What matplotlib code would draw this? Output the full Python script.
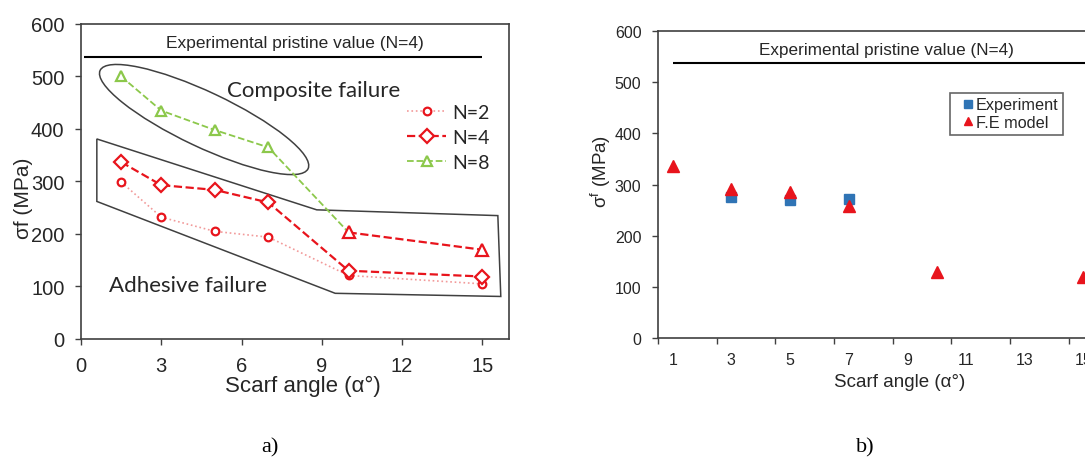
import matplotlib
matplotlib.use('Agg')
import matplotlib.pyplot as plt
from matplotlib.patches import Ellipse, Polygon
from matplotlib.transforms import IdentityTransform
from matplotlib.ticker import FixedLocator, NullFormatter

# ---- data (a) ----
angles_a = [1.5, 3, 5, 7, 10, 15]
sigma_n2 = [299, 232, 205, 194, 121, 105]
sigma_n4 = [337, 293, 284, 260, 130, 119]
sigma_n8 = [500, 435, 398, 365, 203, 170]
x_ticks_a = [0, 3, 6, 9, 12, 15]
y_ticks = [0, 100, 200, 300, 400, 500, 600]

# ---- data (b) ----
angles_exp = [3, 5, 7]
sigma_exp = [275, 270, 272]
err_exp = [8, 6, 9]
angles_fe = [1, 3, 5, 7, 10, 15]
sigma_fe = [337, 291, 285, 258, 130, 120]
x_labels_b = [1, 3, 5, 7, 9, 11, 13, 15]

PRISTINE = 538
PRISTINE_TXT = 'Experimental pristine value (N=4)'

plt.rcParams['font.family'] = ['Liberation Sans', 'DejaVu Sans']
plt.rcParams['mathtext.fontset'] = 'custom'
plt.rcParams['mathtext.rm'] = 'Liberation Sans'

RED = '#e8141c'
GREEN = '#8cc84b'
PINK = '#f29a9a'
GREY = '#404040'
TXT = '#262626'

fig = plt.figure(figsize=(10.85, 4.6), dpi=100)


def style_axes(ax, fs):
    for s in ax.spines.values():
        s.set_color(GREY)
        s.set_linewidth(1.2)
    ax.tick_params(which='major', direction='out', length=4, width=1,
                   color=GREY, labelsize=fs, labelcolor=TXT, pad=8,
                   top=False, right=False)


# ===================== a) =====================
ax1 = fig.add_axes([0.0747, 0.2609, 0.3945, 0.6848])
style_axes(ax1, 14.5)
ax1.set_xlim(0, 16)
ax1.set_ylim(0, 600)
ax1.set_xticks(x_ticks_a)
ax1.set_yticks(y_ticks)
ax1.set_ylabel('σf (MPa)', fontsize=15, color=TXT)
ax1.yaxis.set_label_coords(-0.112, 0.45)
ax1.set_xlabel('Scarf angle (α°)', fontsize=16, color=TXT)
ax1.xaxis.set_label_coords(0.519, -0.115)

ax1.hlines(PRISTINE, 0.1, 15.0, color='black', lw=1.5)
ax1.text(8.0, 565, PRISTINE_TXT, ha='center', va='center', fontsize=12.5,
         color=TXT)

ax1.plot(angles_a, sigma_n2, ':', color=PINK, lw=1.2, marker='o', ms=5.5,
         mfc='white', mec=RED, mew=1.6, label='N=2', zorder=3)
ax1.plot(angles_a, sigma_n4, '--', color=RED, lw=1.6, marker='D', ms=7,
         mfc='white', mec=RED, mew=1.6, label='N=4', zorder=3)
# N=8: green up to 10 deg, red dashed afterwards
ax1.plot(angles_a[:5], sigma_n8[:5], '--', color=GREEN, lw=1.3, zorder=3)
ax1.plot(angles_a[4:], sigma_n8[4:], '--', color=RED, lw=1.6, zorder=3)
ax1.plot(angles_a[:4], sigma_n8[:4], ' ', marker='^', ms=7, mfc='white',
         mec=GREEN, mew=1.6, zorder=4)
ax1.plot(angles_a[4:], sigma_n8[4:], ' ', marker='^', ms=8, mfc='white',
         mec=RED, mew=1.6, zorder=4)

# legend entry for N=8 (green)
ax1.plot([], [], '--', color=GREEN, lw=1.3, marker='^', ms=7, mfc='white',
         mec=GREEN, mew=1.6, label='N=8')
leg1 = ax1.legend(loc='upper left', bbox_to_anchor=(0.762, 0.745),
                  frameon=False, handlelength=2.0,
                  handletextpad=0.3, labelspacing=0.4, borderpad=0,
                  borderaxespad=0, prop={'family': 'Lato', 'size': 14})
for t in leg1.get_texts():
    t.set_color(TXT)

ax1.text(8.7, 475, 'Composite failure', ha='center', va='center',
         fontsize=16, family='Lato', color=TXT)
ax1.text(4.0, 103, 'Adhesive failure', ha='center', va='center',
         fontsize=16, family='Lato', color=TXT)

# failure zones
zone = Polygon([(0.59, 381), (8.81, 246), (15.58, 235), (15.69, 81),
                (9.5, 87), (0.59, 262)], closed=True, fill=False,
               ec=GREY, lw=1.1, zorder=2)
ax1.add_patch(zone)

fig.canvas.draw()
cx, cy = ax1.transData.transform((4.6, 418))
ell = Ellipse((cx, cy), width=230, height=55, angle=-25.3, fill=False,
              ec=GREY, lw=1.1, transform=IdentityTransform(), zorder=2)
ax1.add_artist(ell)

# ===================== b) =====================
ax2 = fig.add_axes([0.6065, 0.263, 0.446, 0.667])
style_axes(ax2, 11.5)
ax2.set_xlim(0.5, 17)
ax2.set_ylim(0, 600)
ax2.set_yticks(y_ticks)
ax2.xaxis.set_major_locator(FixedLocator([0.5 + 2 * i for i in range(9)]))
ax2.xaxis.set_major_formatter(NullFormatter())
ax2.xaxis.set_minor_locator(FixedLocator(x_labels_b))
ax2.set_xticklabels([str(v) for v in x_labels_b], minor=True)
ax2.tick_params(which='minor', length=0, labelsize=11.5, labelcolor=TXT,
                pad=10)
ax2.set_ylabel(r'σ$^{\mathrm{f}}$ (MPa)', fontsize=13.5, color=TXT)
ax2.yaxis.set_label_coords(-0.093, 0.547)
ax2.set_xlabel('Scarf angle (α°)', fontsize=13.5, color=TXT)
ax2.xaxis.set_label_coords(0.5, -0.115)

ax2.hlines(PRISTINE, 1.0, 15.05, color='black', lw=1.5)
ax2.text(8.3, 565, PRISTINE_TXT, ha='center', va='center', fontsize=12.3,
         color=TXT)

exp_h = ax2.errorbar(angles_exp, sigma_exp, yerr=err_exp, fmt='s',
                     color='#2f74b5', ms=7, ecolor='#7f8fa0', elinewidth=1,
                     capsize=0, zorder=3)
fe_h, = ax2.plot(angles_fe, sigma_fe, ' ', marker='^', ms=8, color=RED,
                 zorder=4)

leg2 = ax2.legend([exp_h[0], fe_h], ['Experiment', 'F.E model'],
                  loc='upper left', bbox_to_anchor=(0.603, 0.80),
                  fontsize=11.7, frameon=True, fancybox=False,
                  edgecolor=GREY, handlelength=1.6, handletextpad=-0.3,
                  labelspacing=0.15, borderpad=0.3, borderaxespad=0,
                  markerscale=0.8)
leg2.get_frame().set_linewidth(1.2)
for t in leg2.get_texts():
    t.set_color(TXT)

# panel tags
fig.text(270 / 1085, 1 - 448 / 460, 'a)', ha='center', va='center',
         fontsize=16, family='Liberation Serif')
fig.text(865 / 1085, 1 - 448 / 460, 'b)', ha='center', va='center',
         fontsize=16, family='Liberation Serif')

fig.savefig('out.png', dpi=100)
